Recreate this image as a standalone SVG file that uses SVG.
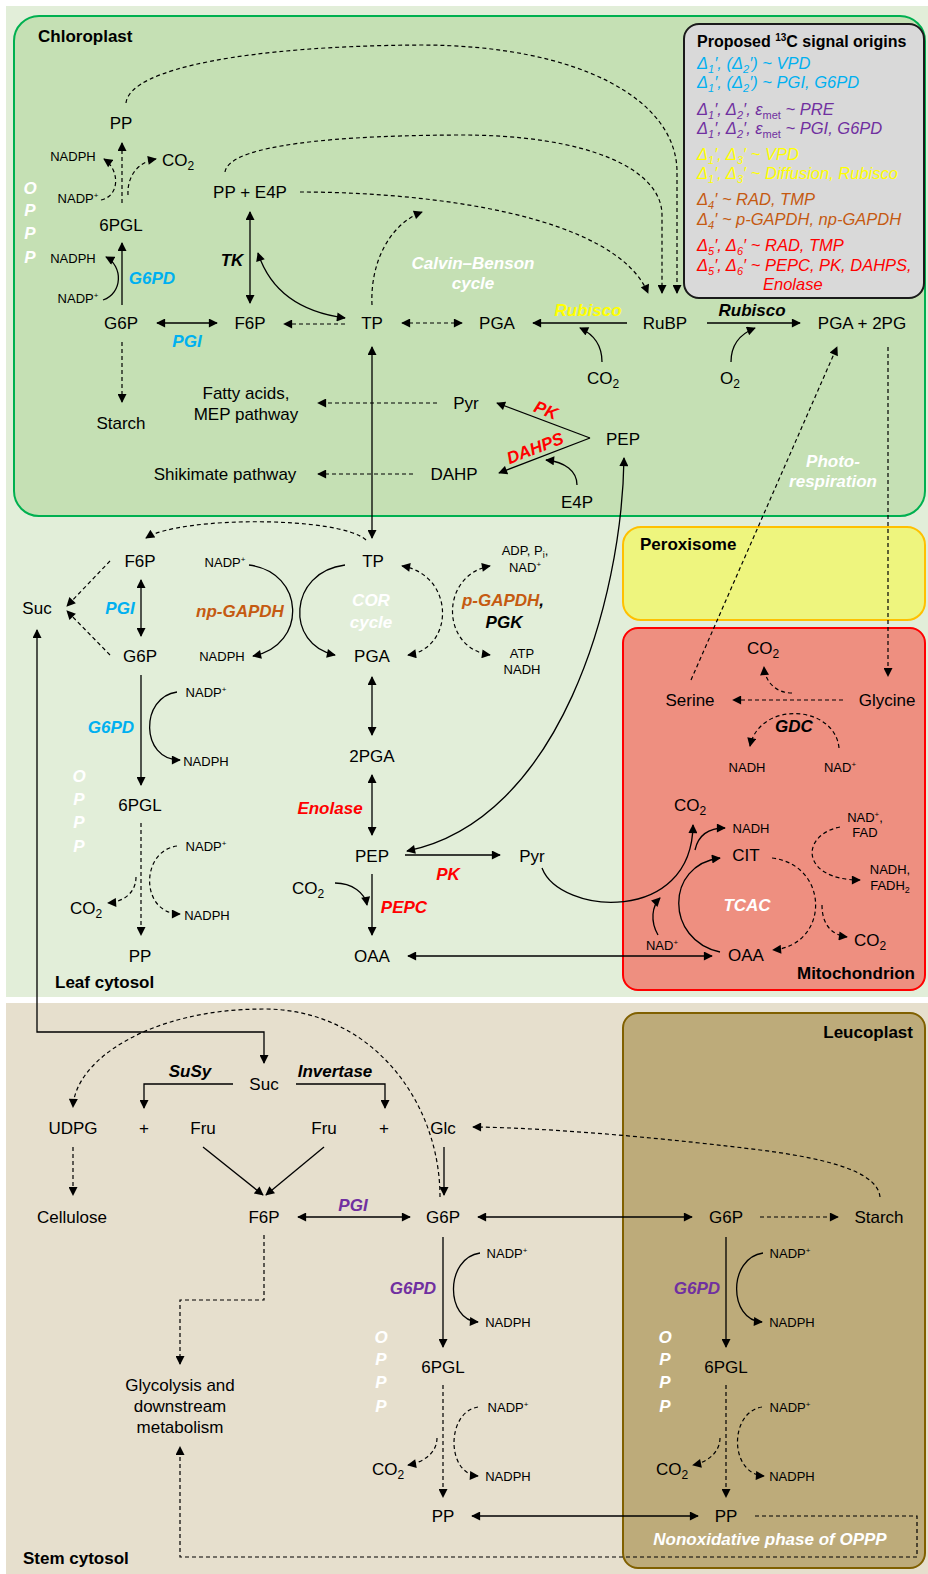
<svg xmlns="http://www.w3.org/2000/svg" width="928" height="1574" viewBox="0 0 928 1574">
<defs>
<style>
text{font-family:"Liberation Sans",Arial,sans-serif;}
.n{font-size:17px;fill:#000;text-anchor:middle}
.s{font-size:13px;fill:#000;text-anchor:middle}
.e{font-size:17px;font-weight:bold;font-style:italic;text-anchor:middle}
.w{font-size:17px;font-weight:bold;font-style:italic;fill:#fff;text-anchor:middle}
.t{font-size:17px;font-weight:bold;fill:#000}
.lg{font-size:16.5px;font-style:italic}
.l{fill:none;stroke:#000;stroke-width:1.3}
.d{stroke-dasharray:4 3;stroke-width:1.2}
.m{marker-end:url(#a)}
.b{marker-start:url(#a);marker-end:url(#a)}
</style>
<marker id="a" viewBox="0 0 10 10" refX="9" refY="5" markerWidth="10" markerHeight="9" orient="auto-start-reverse" markerUnits="userSpaceOnUse"><path d="M0,0 L10,5 L0,10 z" fill="#000"/></marker>
</defs>
<rect width="928" height="1574" fill="#fff"/>
<g id="leaf-cytosol"><rect x="6" y="6" width="922" height="991" fill="#e2eed9"/></g>
<g id="stem-cytosol"><rect x="6" y="1003" width="922" height="571" fill="#e6dfcd"/></g>
<g id="chloroplast"><rect x="14" y="16" width="911" height="500" rx="25" fill="#c5e0b4" stroke="#00b050" stroke-width="2"/><text class="t" x="38" y="42">Chloroplast</text></g>
<g id="peroxisome"><rect x="623" y="527" width="302" height="93" rx="18" fill="#eef57e" stroke="#ffc000" stroke-width="2"/><text class="t" x="640" y="550">Peroxisome</text></g>
<g id="mitochondrion"><rect x="623" y="628" width="302" height="362" rx="15" fill="#ee8f80" stroke="#ff0000" stroke-width="2"/><text class="t" x="915" y="979" text-anchor="end" style="text-anchor:end">Mitochondrion</text></g>
<g id="leucoplast"><rect x="623" y="1013" width="302" height="555" rx="15" fill="#bdab7a" stroke="#806000" stroke-width="2"/><text class="t" x="913" y="1038" style="text-anchor:end">Leucoplast</text></g>

<g id="legend">
<rect x="684" y="24" width="240" height="274" rx="15" fill="#d9d9d9" stroke="#1a1a1a" stroke-width="2"/>
<text x="697" y="47" font-size="16" font-weight="bold">Proposed <tspan font-size="10" dy="-6">13</tspan><tspan dy="6">C signal origins</tspan></text>
<text class="lg" x="697" y="69" fill="#00b0f0">Δ<tspan font-size="11" dy="4">1</tspan><tspan dy="-4">′, (Δ</tspan><tspan font-size="11" dy="4">2</tspan><tspan dy="-4">′) ~ VPD</tspan></text>
<text class="lg" x="697" y="88" fill="#00b0f0">Δ<tspan font-size="11" dy="4">1</tspan><tspan dy="-4">′, (Δ</tspan><tspan font-size="11" dy="4">2</tspan><tspan dy="-4">′) ~ PGI, G6PD</tspan></text>
<text class="lg" x="697" y="115" fill="#7030a0">Δ<tspan font-size="11" dy="4">1</tspan><tspan dy="-4">′, Δ</tspan><tspan font-size="11" dy="4">2</tspan><tspan dy="-4">′, ε</tspan><tspan font-size="11" font-style="normal" dy="4">met</tspan><tspan dy="-4"> ~ PRE</tspan></text>
<text class="lg" x="697" y="134" fill="#7030a0">Δ<tspan font-size="11" dy="4">1</tspan><tspan dy="-4">′, Δ</tspan><tspan font-size="11" dy="4">2</tspan><tspan dy="-4">′, ε</tspan><tspan font-size="11" font-style="normal" dy="4">met</tspan><tspan dy="-4"> ~ PGI, G6PD</tspan></text>
<text class="lg" x="697" y="160" fill="#ffff00">Δ<tspan font-size="11" dy="4">1</tspan><tspan dy="-4">′, Δ</tspan><tspan font-size="11" dy="4">3</tspan><tspan dy="-4">′ ~ VPD</tspan></text>
<text class="lg" x="697" y="179" fill="#ffff00">Δ<tspan font-size="11" dy="4">1</tspan><tspan dy="-4">′, Δ</tspan><tspan font-size="11" dy="4">3</tspan><tspan dy="-4">′ ~ Diffusion, Rubisco</tspan></text>
<text class="lg" x="697" y="205" fill="#c55a11">Δ<tspan font-size="11" dy="4">4</tspan><tspan dy="-4">′ ~ RAD, TMP</tspan></text>
<text class="lg" x="697" y="225" fill="#c55a11">Δ<tspan font-size="11" dy="4">4</tspan><tspan dy="-4">′ ~ p-GAPDH, np-GAPDH</tspan></text>
<text class="lg" x="697" y="251" fill="#ff0000">Δ<tspan font-size="11" dy="4">5</tspan><tspan dy="-4">′, Δ</tspan><tspan font-size="11" dy="4">6</tspan><tspan dy="-4">′ ~ RAD, TMP</tspan></text>
<text class="lg" x="697" y="271" fill="#ff0000">Δ<tspan font-size="11" dy="4">5</tspan><tspan dy="-4">′, Δ</tspan><tspan font-size="11" dy="4">6</tspan><tspan dy="-4">′ ~ PEPC, PK, DAHPS,</tspan></text>
<text class="lg" x="763" y="290" fill="#ff0000">Enolase</text>
</g>

<g id="connectors">
<path class="l d m" d="M126,103 C130,68 250,46 420,45 C580,45 677,100 677,172 L677,293"/>
<path class="l d m" d="M225,172 C228,150 300,136 455,135 C590,134 662,170 662,215 L662,293"/>
<path class="l d m" d="M300,192 C430,192 615,215 648,293"/>
<path class="l d m" d="M122,203 L122,143"/>
<path class="l d m" d="M128,195 C127,176 138,162 156,159"/>
<path class="l d m" d="M101,200 C120,196 120,170 104,159"/>
<path class="l m" d="M122,305 L122,243"/>
<path class="l m" d="M103,300 C123,293 123,266 106,257"/>
<path class="l b" d="M250,212 L250,303"/>
<path class="l b" d="M258,253 C270,290 300,312 345,318"/>
<path class="l b" d="M157,323 L217,323"/>
<path class="l d m" d="M345,324 L284,324"/>
<path class="l d b" d="M402,323 L462,323"/>
<path class="l d m" d="M122,342 L122,402"/>
<path class="l d m" d="M372,305 C370,262 390,224 422,212"/>
<path class="l b" d="M372,347 L372,538"/>
<path class="l m" d="M627,323 L533,323"/>
<path class="l m" d="M602,362 C602,345 593,334 580,328"/>
<path class="l m" d="M707,323 L800,323"/>
<path class="l m" d="M731,362 C731,345 740,334 755,328"/>
<path class="l d m" d="M888,347 L888,676"/>
<path class="l d m" d="M691,680 L837,347"/>
<path class="l d m" d="M437,403 L318,403"/>
<path class="l d m" d="M413,474 L318,474"/>
<path class="l m" d="M590,438 L497,403"/>
<path class="l m" d="M590,438 L499,473"/>
<path class="l m" d="M577,485 C577,471 565,462 546,460"/>
<path class="l b" d="M624,458 C622,600 560,820 407,851"/>
<path class="l d m" d="M366,540 C340,516 180,516 146,538"/>
<path class="l d m" d="M110,561 L67,606"/>
<path class="l d m" d="M110,655 L67,611"/>
<path class="l b" d="M141,580 L141,636"/>
<path class="l m" d="M249,565 C305,572 308,645 253,656"/>
<path class="l m" d="M345,565 C288,572 285,645 335,655"/>
<path class="l d b" d="M402,566 C455,575 455,648 408,655"/>
<path class="l d b" d="M490,566 C440,575 440,648 490,655"/>
<path class="l b" d="M372,677 L372,735"/>
<path class="l b" d="M372,775 L372,835"/>
<path class="l m" d="M405,855 L500,855"/>
<path class="l m" d="M372,874 L372,935"/>
<path class="l m" d="M335,883 C352,883 365,893 367,905"/>
<path class="l b" d="M408,956 L712,956"/>
<path class="l m" d="M141,675 L141,785"/>
<path class="l m" d="M177,692 C140,697 140,760 180,760"/>
<path class="l d m" d="M141,823 L141,935"/>
<path class="l d m" d="M177,846 C140,851 140,914 180,914"/>
<path class="l d m" d="M136,877 C136,893 123,902 108,903"/>
<path class="l b" d="M37,630 L37,1032 L264,1032 L264,1063"/>
<path class="l d m" d="M843,700 L733,700"/>
<path class="l d m" d="M792,693 C775,693 765,681 764,667"/>
<path class="l d m" d="M839,748 C835,705 760,700 750,746"/>
<path class="l m" d="M542,868 C560,915 692,925 693,825"/>
<path class="l m" d="M695,850 C698,836 708,828 725,828"/>
<path class="l m" d="M658,935 C650,921 652,906 660,898"/>
<path class="l m" d="M720,952 C665,940 665,865 720,858"/>
<path class="l d m" d="M772,858 C830,865 830,945 773,950"/>
<path class="l d m" d="M840,827 C800,835 800,880 860,880"/>
<path class="l d m" d="M822,905 C822,925 832,935 847,937"/>
<path class="l m" d="M233,1084 L144,1084 L144,1108"/>
<path class="l m" d="M296,1084 L385,1084 L385,1108"/>
<path class="l d m" d="M440,1197 C440,1100 370,1009 264,1009 C150,1009 75,1060 73,1107"/>
<path class="l m" d="M444,1147 L444,1195"/>
<path class="l d m" d="M880,1197 C878,1175 840,1160 760,1150 C680,1140 560,1128 473,1127"/>
<path class="l m" d="M203,1147 L263,1195"/>
<path class="l m" d="M324,1147 L266,1195"/>
<path class="l d m" d="M73,1147 L73,1195"/>
<path class="l b" d="M298,1217 L410,1217"/>
<path class="l b" d="M478,1217 L692,1217"/>
<path class="l d m" d="M760,1217 L838,1217"/>
<path class="l d m" d="M264,1235 L264,1300 L180,1300 L180,1364"/>
<path class="l d m" d="M755,1516 L917,1516 L917,1557 L180,1557 L180,1447"/>
<path class="l m" d="M443,1237 L443,1347"/>
<path class="l m" d="M480,1253 C445,1258 445,1320 478,1322"/>
<path class="l d m" d="M443,1385 L443,1497"/>
<path class="l d m" d="M478,1407 C446,1412 446,1474 478,1476"/>
<path class="l d m" d="M437,1438 C437,1452 425,1462 408,1465"/>
<path class="l b" d="M472,1516 L698,1516"/>
<path class="l m" d="M726,1237 L726,1347"/>
<path class="l m" d="M763,1253 C728,1258 728,1320 762,1322"/>
<path class="l d m" d="M726,1385 L726,1497"/>
<path class="l d m" d="M762,1407 C729,1412 729,1474 764,1476"/>
<path class="l d m" d="M720,1438 C720,1452 708,1462 693,1465"/>
</g>

<g id="chloro-nodes">
<text class="n" x="121" y="129">PP</text>
<text class="s" x="73" y="161">NADPH</text>
<text class="n" x="178" y="166">CO<tspan font-size="12" dy="4">2</tspan></text>
<text class="s" x="78" y="203">NADP<tspan font-size="8" dy="-5">+</tspan></text>
<text class="n" x="121" y="231">6PGL</text>
<text class="s" x="73" y="263">NADPH</text>
<text class="s" x="78" y="303">NADP<tspan font-size="8" dy="-5">+</tspan></text>
<text class="e" x="152" y="284" fill="#00b0f0">G6PD</text>
<text class="w" x="30" y="194">O</text><text class="w" x="30" y="216">P</text><text class="w" x="30" y="239">P</text><text class="w" x="30" y="263">P</text>
<text class="n" x="250" y="198">PP + E4P</text>
<text class="e" x="232" y="266" fill="#000">TK</text>
<text class="n" x="121" y="329">G6P</text>
<text class="n" x="250" y="329">F6P</text>
<text class="n" x="372" y="329">TP</text>
<text class="e" x="187" y="347" fill="#00b0f0">PGI</text>
<text class="w" x="473" y="269">Calvin–Benson</text>
<text class="w" x="473" y="289">cycle</text>
<text class="n" x="497" y="329">PGA</text>
<text class="e" x="588" y="316" fill="#ffff00">Rubisco</text>
<text class="n" x="665" y="329">RuBP</text>
<text class="n" x="603" y="384">CO<tspan font-size="12" dy="4">2</tspan></text>
<text class="e" x="752" y="316" fill="#000">Rubisco</text>
<text class="n" x="730" y="384">O<tspan font-size="12" dy="4">2</tspan></text>
<text class="n" x="862" y="329">PGA + 2PG</text>
<text class="n" x="121" y="429">Starch</text>
<text class="n" x="246" y="399">Fatty acids,</text>
<text class="n" x="246" y="420">MEP pathway</text>
<text class="n" x="466" y="409">Pyr</text>
<text class="n" x="225" y="480">Shikimate pathway</text>
<text class="n" x="454" y="480">DAHP</text>
<text class="n" x="623" y="445">PEP</text>
<text class="n" x="577" y="508">E4P</text>
<text class="e" fill="#ff0000" transform="translate(546,410) rotate(21)" y="6">PK</text>
<text class="e" fill="#ff0000" transform="translate(535,448) rotate(-21)" y="6">DAHPS</text>
<text class="w" x="833" y="467">Photo-</text>
<text class="w" x="833" y="487">respiration</text>
</g>

<g id="leaf-nodes">
<text class="n" x="140" y="567">F6P</text>
<text class="n" x="37" y="614">Suc</text>
<text class="n" x="140" y="662">G6P</text>
<text class="e" x="120" y="614" fill="#00b0f0">PGI</text>
<text class="s" x="225" y="567">NADP<tspan font-size="8" dy="-5">+</tspan></text>
<text class="e" x="240" y="617" fill="#c55a11">np-GAPDH</text>
<text class="s" x="222" y="661">NADPH</text>
<text class="n" x="373" y="567">TP</text>
<text class="n" x="372" y="662">PGA</text>
<text class="w" x="371" y="606">COR</text>
<text class="w" x="371" y="628">cycle</text>
<text class="s" x="525" y="555">ADP, P<tspan font-size="9" dy="3">i</tspan><tspan dy="-3">,</tspan></text>
<text class="s" x="525" y="572">NAD<tspan font-size="8" dy="-5">+</tspan></text>
<text class="e" x="503" y="606"><tspan fill="#c55a11">p-GAPDH</tspan><tspan fill="#000">,</tspan></text>
<text class="e" x="504" y="628" fill="#000">PGK</text>
<text class="s" x="522" y="658">ATP</text>
<text class="s" x="522" y="674">NADH</text>
<text class="n" x="372" y="762">2PGA</text>
<text class="e" x="330" y="814" fill="#ff0000">Enolase</text>
<text class="n" x="372" y="862">PEP</text>
<text class="n" x="532" y="862">Pyr</text>
<text class="e" x="448" y="880" fill="#ff0000">PK</text>
<text class="n" x="308" y="894">CO<tspan font-size="12" dy="4">2</tspan></text>
<text class="e" x="404" y="913" fill="#ff0000">PEPC</text>
<text class="n" x="372" y="962">OAA</text>
<text class="e" x="111" y="733" fill="#00b0f0">G6PD</text>
<text class="s" x="206" y="697">NADP<tspan font-size="8" dy="-5">+</tspan></text>
<text class="s" x="206" y="766">NADPH</text>
<text class="w" x="79" y="782">O</text><text class="w" x="79" y="805">P</text><text class="w" x="79" y="828">P</text><text class="w" x="79" y="852">P</text>
<text class="n" x="140" y="811">6PGL</text>
<text class="s" x="206" y="851">NADP<tspan font-size="8" dy="-5">+</tspan></text>
<text class="s" x="207" y="920">NADPH</text>
<text class="n" x="86" y="914">CO<tspan font-size="12" dy="4">2</tspan></text>
<text class="n" x="140" y="962">PP</text>
<text class="t" x="55" y="988">Leaf cytosol</text>
</g>

<g id="mito-nodes">
<text class="n" x="763" y="654">CO<tspan font-size="12" dy="4">2</tspan></text>
<text class="n" x="690" y="706">Serine</text>
<text class="n" x="887" y="706">Glycine</text>
<text class="e" x="794" y="732" fill="#000">GDC</text>
<text class="s" x="747" y="772">NADH</text>
<text class="s" x="840" y="772">NAD<tspan font-size="8" dy="-5">+</tspan></text>
<text class="n" x="690" y="811">CO<tspan font-size="12" dy="4">2</tspan></text>
<text class="s" x="751" y="833">NADH</text>
<text class="n" x="746" y="861">CIT</text>
<text class="w" x="747" y="911">TCAC</text>
<text class="s" x="662" y="950">NAD<tspan font-size="8" dy="-5">+</tspan></text>
<text class="n" x="746" y="961">OAA</text>
<text class="s" x="865" y="822">NAD<tspan font-size="8" dy="-5">+</tspan><tspan dy="5">,</tspan></text>
<text class="s" x="865" y="837">FAD</text>
<text class="s" x="890" y="874">NADH,</text>
<text class="s" x="890" y="890">FADH<tspan font-size="9" dy="3">2</tspan></text>
<text class="n" x="870" y="946">CO<tspan font-size="12" dy="4">2</tspan></text>
</g>

<g id="stem-nodes">
<text class="n" x="264" y="1090">Suc</text>
<text class="e" x="190" y="1077" fill="#000">SuSy</text>
<text class="e" x="335" y="1077" fill="#000">Invertase</text>
<text class="n" x="73" y="1134">UDPG</text>
<text class="n" x="144" y="1134">+</text>
<text class="n" x="203" y="1134">Fru</text>
<text class="n" x="324" y="1134">Fru</text>
<text class="n" x="384" y="1134">+</text>
<text class="n" x="443" y="1134">Glc</text>
<text class="n" x="72" y="1223">Cellulose</text>
<text class="n" x="264" y="1223">F6P</text>
<text class="e" x="353" y="1211" fill="#7030a0">PGI</text>
<text class="n" x="443" y="1223">G6P</text>
<text class="n" x="726" y="1223">G6P</text>
<text class="n" x="879" y="1223">Starch</text>
<text class="n" x="180" y="1391">Glycolysis and</text>
<text class="n" x="180" y="1412">downstream</text>
<text class="n" x="180" y="1433">metabolism</text>
<text class="e" x="413" y="1294" fill="#7030a0">G6PD</text>
<text class="s" x="507" y="1258">NADP<tspan font-size="8" dy="-5">+</tspan></text>
<text class="s" x="508" y="1327">NADPH</text>
<text class="w" x="381" y="1343">O</text><text class="w" x="381" y="1365">P</text><text class="w" x="381" y="1388">P</text><text class="w" x="381" y="1412">P</text>
<text class="n" x="443" y="1373">6PGL</text>
<text class="s" x="508" y="1412">NADP<tspan font-size="8" dy="-5">+</tspan></text>
<text class="s" x="508" y="1481">NADPH</text>
<text class="n" x="388" y="1475">CO<tspan font-size="12" dy="4">2</tspan></text>
<text class="n" x="443" y="1522">PP</text>
<text class="e" x="697" y="1294" fill="#7030a0">G6PD</text>
<text class="s" x="790" y="1258">NADP<tspan font-size="8" dy="-5">+</tspan></text>
<text class="s" x="792" y="1327">NADPH</text>
<text class="w" x="665" y="1343">O</text><text class="w" x="665" y="1365">P</text><text class="w" x="665" y="1388">P</text><text class="w" x="665" y="1412">P</text>
<text class="n" x="726" y="1373">6PGL</text>
<text class="s" x="790" y="1412">NADP<tspan font-size="8" dy="-5">+</tspan></text>
<text class="s" x="792" y="1481">NADPH</text>
<text class="n" x="672" y="1475">CO<tspan font-size="12" dy="4">2</tspan></text>
<text class="n" x="726" y="1522">PP</text>
<text class="w" x="770" y="1545">Nonoxidative phase of OPPP</text>
<text class="t" x="23" y="1564">Stem cytosol</text>
</g>
</svg>
